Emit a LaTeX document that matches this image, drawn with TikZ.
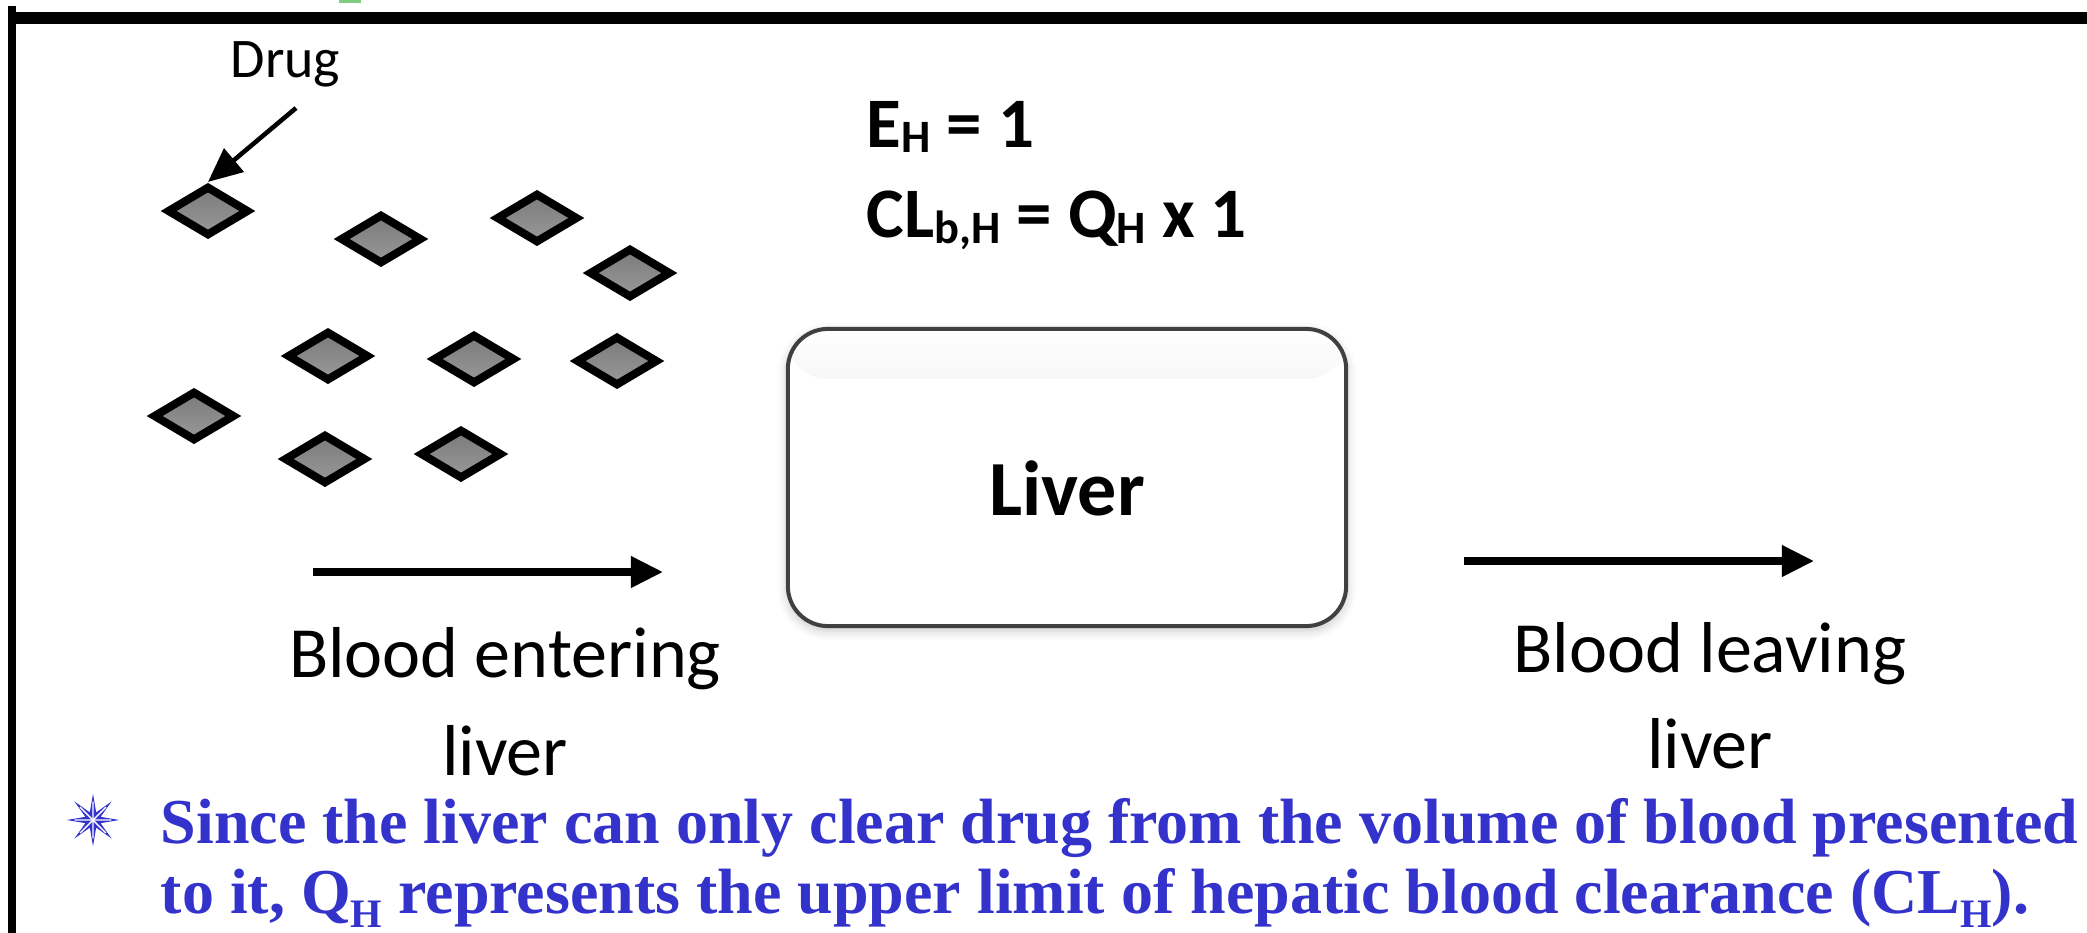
\documentclass[tikz,border=0pt]{standalone}
\usepackage{fontspec}
\setmainfont{Carlito}
\newfontfamily\notefont{Liberation Serif}
\usetikzlibrary{positioning,arrows.meta,shapes.geometric,shadows.blur,calc}

\definecolor{noteblue}{RGB}{51,51,204}
\definecolor{boxgray}{RGB}{64,64,64}
% lowered subscripts
\newcommand{\hsub}[1]{\raisebox{-1.7pt}{\fontsize{13.2}{13.2}\selectfont #1}}
\newcommand{\nsub}[1]{\raisebox{-4pt}{\fontsize{11.5}{11.5}\selectfont #1}}

\begin{document}
\begin{tikzpicture}[x=0.01cm,y=-0.01cm]
\tikzstyle{drug}=[diamond,draw=black,line width=2.3pt,inner sep=0pt,minimum width=0.82cm,minimum height=0.5cm,top color=black!52,bottom color=black!40]
\tikzstyle{flow}=[-{Triangle[length=0.32cm,width=0.3cm]},line width=2pt]
\tikzstyle{lbl}=[font=\fontsize{20.5}{24}\selectfont,anchor=base,inner sep=0pt]
\tikzstyle{eqn}=[font=\fontsize{20.2}{24}\selectfont\bfseries,anchor=base west,inner sep=0pt]
\tikzstyle{note}=[font=\notefont\bfseries\fontsize{18.2}{20}\selectfont,text=noteblue,anchor=base west,inner sep=0pt]
\tikzstyle{bullet}=[star,star points=8,star point ratio=3.2,minimum size=0.46cm,inner sep=0pt,fill=noteblue,draw=noteblue,line width=0.3pt]

\useasboundingbox (0,0) rectangle (2087,933);

% frame
\fill[green!60!black!50] (339,0) rectangle (361,3);
\draw[line width=3.4pt] (8,18) -- (2087,18);
\draw[line width=2pt] (12,6) -- (12,933);

% drug particles
\node[drug] (d1) at (208,211) {};
\node[drug] (d2) at (381,239) {};
\node[drug] (d3) at (537,218) {};
\node[drug] (d4) at (630,273) {};
\node[drug] (d5) at (328,356) {};
\node[drug] (d6) at (474,359) {};
\node[drug] (d7) at (617,361) {};
\node[drug] (d8) at (194,416) {};
\node[drug] (d9) at (325,459) {};
\node[drug] (d10) at (461,454) {};

\node[font=\fontsize{15.9}{18}\selectfont,anchor=base west,inner sep=0pt] (lab) at (230,77) {Drug};
\coordinate (tail) at (296,108);
\draw[-{Triangle[length=0.34cm,width=0.3cm]},line width=1.3pt] (tail) -- (d1.north);

% extraction ratio
\node[eqn] (eh) at (866,147) {E\hsub{H} = 1};
\node[eqn] (clb) at ([yshift=-0.9cm]eh.base west) {CL\hsub{b,H} = Q\hsub{H} x 1};

% liver
\node[rectangle,rounded corners=0.4cm,draw=boxgray,line width=1.14pt,fill=white,minimum width=5.58cm,minimum height=2.97cm,
  blur shadow={shadow xshift=0pt,shadow yshift=-0.04cm,shadow opacity=25,shadow blur radius=0.1cm},
  path picture={\shade[top color=white,bottom color=white,middle color=black!10]
    ([yshift=-0.02cm]path picture bounding box.north west) rectangle ([yshift=-0.5cm]path picture bounding box.north east);}]
  (liver) at (1067,477.5) {};
\node[font=\fontsize{22.2}{26}\selectfont\bfseries,anchor=base,inner sep=0pt] (livtxt) at ([yshift=-0.375cm]liver.center) {Liver};

% blood flow
\coordinate (ina) at (313,572);
\coordinate (inb) at (663,572);
\draw[flow] (ina) -- (inb);
\node[lbl] (inl) at (505,677) {Blood entering};
\node[lbl] (inl2) at ([yshift=-0.98cm]inl.base) {liver};

\coordinate (outa) at (1464,561);
\coordinate (outb) at (1814,561);
\draw[flow] (outa) -- (outb);
\node[lbl] (outl) at (1710,672) {Blood leaving};
\node[lbl] (outl2) at ([yshift=-0.96cm]outl.base) {liver};

% note
\node[bullet] (bul) at (93,820) {};
\foreach \i in {1,...,8}
  \draw[white,line width=0.4pt] (bul.center) -- ($(bul.center)!0.7!(bul.outer point \i)$);
\node[note] (note1) at (160,843) {Since the liver can only clear drug from the volume of blood presented};
\node[note] (note2) at ([yshift=-0.7cm]note1.base west) {to it, Q\nsub{H} represents the upper limit of hepatic blood clearance (CL\nsub{H}).};
\end{tikzpicture}
\end{document}
